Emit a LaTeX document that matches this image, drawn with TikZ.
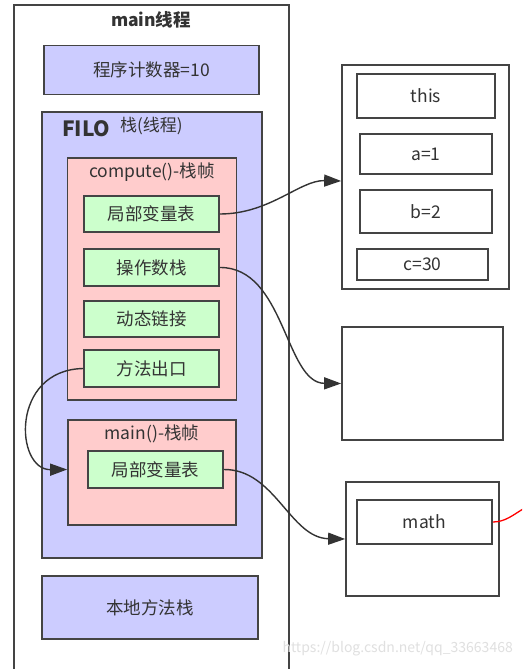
\documentclass[tikz,border=0pt]{standalone}
\usepackage{fontspec}
\setmainfont{Noto Sans CJK SC}
\usetikzlibrary{arrows.meta}
\definecolor{lav}{HTML}{CCCCFF}
\definecolor{pinkf}{HTML}{FFCCCC}
\definecolor{greenf}{HTML}{CCFFCC}
\definecolor{edge}{HTML}{444444}
\definecolor{txt}{HTML}{333333}
\tikzset{
  box/.style={draw=edge, line width=1.7pt, inner sep=0pt, text=txt, font=\fontsize{17.5}{20}\selectfont},
  lavbox/.style={box, fill=lav},
  pinkbox/.style={box, fill=pinkf},
  greenbox/.style={box, fill=greenf},
  whitebox/.style={box, fill=white},
  lbl/.style={text=txt, inner sep=0pt, font=\fontsize{17.5}{20}\selectfont},
  conn/.style={draw=txt, line width=1.4pt, -{Triangle[length=17pt,width=12pt]}},
}
\begin{document}
\begin{tikzpicture}[x=1pt,y=-1pt]
\useasboundingbox (0,0) rectangle (522,669);
\fill[white] (0,0) rectangle (522,669);
\begin{scope}
\clip (0,0) rectangle (522,669);
% outer thread box
\node[whitebox, minimum width=275pt, minimum height=690pt] (thread) at (151.5,350) {};
\node[lbl, font=\bfseries\fontsize{17.5}{20}\selectfont] (title) at (151,20) {main线程};
\node[lavbox, minimum width=215pt, minimum height=49pt] (pc) at (151.5,70) {程序计数器=10};
\node[lavbox, minimum width=220pt, minimum height=446pt] (filo) at (152,335) {};
\node[lbl, anchor=west, font=\bfseries\fontsize{21}{24}\selectfont] (filot) at (62,129) {FILO};
\node[lbl, anchor=west, font=\fontsize{17}{20}\selectfont] (stackt) at (120,126) {栈(线程)};
% compute frame
\node[pinkbox, minimum width=169pt, minimum height=242pt] (cf) at (152,279) {};
\node[lbl] (cft) at (152,172) {compute()-栈帧};
\node[greenbox, minimum width=135pt, minimum height=36pt] (lv1) at (151.5,214) {局部变量表};
\node[greenbox, minimum width=135pt, minimum height=37pt] (ops) at (151.5,267.5) {操作数栈};
\node[greenbox, minimum width=135pt, minimum height=36pt] (dyn) at (151.5,319) {动态链接};
\node[greenbox, minimum width=135pt, minimum height=37pt] (ret) at (151.5,368.5) {方法出口};
% main frame
\node[pinkbox, minimum width=168pt, minimum height=105pt] (mf) at (152,472.5) {};
\node[lbl] (mft) at (152,434) {main()-栈帧};
\node[greenbox, minimum width=135pt, minimum height=37pt] (lv2) at (155.5,469.5) {局部变量表};
% native
\node[lavbox, minimum width=216pt, minimum height=63pt] (native) at (150,607.5) {本地方法栈};
% right side
\node[whitebox, minimum width=167pt, minimum height=224pt] (box1) at (425.5,177) {};
\node[whitebox, minimum width=138pt, minimum height=44pt] (this) at (426,96) {this};
\node[whitebox, minimum width=132pt, minimum height=40pt] (va) at (426,154) {a=1};
\node[whitebox, minimum width=132pt, minimum height=43pt] (vb) at (426,211.5) {b=2};
\node[whitebox, minimum width=131pt, minimum height=31pt] (vc) at (422.5,264.5) {c=30};
\node[whitebox, minimum width=161pt, minimum height=113pt] (box2) at (422.5,383.5) {};
\node[whitebox, minimum width=153pt, minimum height=114pt] (box3) at (422.5,539) {};
\node[whitebox, minimum width=135pt, minimum height=44pt] (math) at (424.5,522) {math};
% connectors
\coordinate (retin) at (mf.west |- lv2.west);
\draw[conn] (lv1.east) .. controls (270,214) and (300,180) .. ([yshift=-4pt]box1.west);
\draw[conn] (ops.east) .. controls (285,267) and (285,383) .. (box2.west);
\draw[conn] (ret.west) .. controls (10,370) and (15,470) .. (retin);
\draw[conn] (lv2.east) .. controls (275,469) and (290,538) .. (box3.west);
\coordinate (redend) at (523,509);
\draw[red, line width=1.3pt] (math.east) .. controls (505,522) and (513,515) .. (redend);
\node[anchor=east, text=black!12, inner sep=0pt, font=\fontsize{14}{16}\selectfont] (wm) at (513,649) {https://blog.csdn.net/qq\_33663468};
\end{scope}
\end{tikzpicture}
\end{document}
